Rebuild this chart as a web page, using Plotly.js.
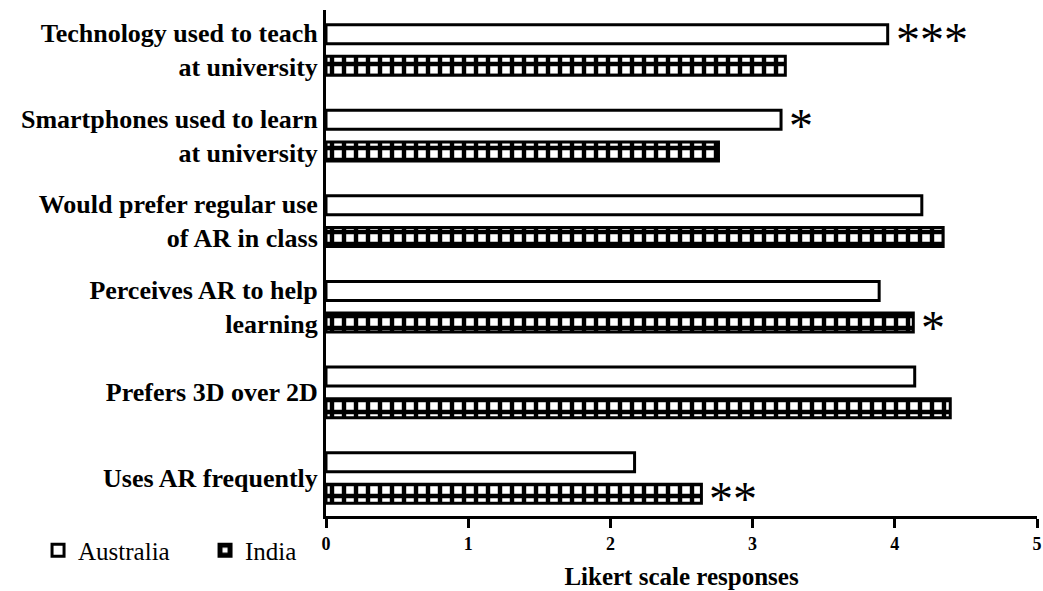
<!DOCTYPE html>
<html>
<head>
<meta charset="utf-8">
<script src="https://cdn.plot.ly/plotly-3.0.1.min.js"></script>
<style>html,body{margin:0;padding:0;background:#fff;}#chart{width:1043px;height:591px;}</style>
</head>
<body>
<div id="chart"></div>
<script>
const categories = [
  "Technology used to teach<br>at university",
  "Smartphones used to learn<br>at university",
  "Would prefer regular use<br>of AR in class",
  "Perceives AR to help<br>learning",
  "Prefers 3D over 2D",
  "Uses AR frequently"
];
const australia = [3.95, 3.20, 4.19, 3.89, 4.14, 2.17];
const india = [3.23, 2.76, 4.34, 4.13, 4.39, 2.64];
const australiaSig = ["***", "*", "", "", "", ""];
const indiaSig = ["", "", "", "*", "", "**"];
const xTicks = [0, 1, 2, 3, 4, 5];

const serif = "Liberation Serif";

const traces = [
  {
    type: "bar", orientation: "h", name: "Australia",
    y: categories, x: australia,
    marker: {color: "#ffffff", line: {color: "#000000", width: 3}},
    hoverinfo: "x+y"
  },
  {
    type: "bar", orientation: "h", name: "India",
    y: categories, x: india,
    marker: {color: "#ffffff", line: {color: "#000000", width: 3},
      pattern: {shape: "+", fgcolor: "#000000", bgcolor: "#ffffff", size: 12, solidity: 0.6, fillmode: "replace"}},
    hoverinfo: "x+y"
  }
];

const annotations = [];
categories.forEach((c, i) => {
  if (australiaSig[i]) annotations.push({x: australia[i], y: c, text: australiaSig[i], xanchor: "left", yanchor: "middle",
    xshift: 6, yshift: 10, showarrow: false, font: {family: serif, size: 48, color: "#000"}});
  if (indiaSig[i]) annotations.push({x: india[i], y: c, text: indiaSig[i], xanchor: "left", yanchor: "middle",
    xshift: 6, yshift: -21, showarrow: false, font: {family: serif, size: 48, color: "#000"}});
});

const layout = {
  width: 1043, height: 591,
  font: {family: serif, color: "#000"},
  margin: {l: 326, r: 6, t: 10, b: 75},
  paper_bgcolor: "#ffffff", plot_bgcolor: "#ffffff",
  barmode: "group", bargap: 0.26, bargroupgap: 0.4,
  showlegend: true,
  legend: {orientation: "h", x: -0.405, xanchor: "left", y: -0.068, yanchor: "middle",
    bgcolor: "rgba(0,0,0,0)",
    font: {family: serif, size: 25, color: "#000"}, traceorder: "normal",
    entrywidth: 122, entrywidthmode: "pixels"},
  xaxis: {
    range: [0, 5], tickvals: xTicks, ticktext: xTicks.map(String),
    showgrid: false, zeroline: false, showline: true, linecolor: "#000", linewidth: 3,
    ticks: "outside", ticklen: 9, tickwidth: 3, tickcolor: "#000",
    tickfont: {family: serif, size: 18, color: "#000", weight: "bold"},
    title: {text: "Likert scale responses", font: {family: serif, size: 25, color: "#000", weight: "bold"}, standoff: 15}
  },
  yaxis: {
    type: "category", range: [5.444, -0.467], autorange: false,
    showgrid: false, zeroline: false, showline: true, linecolor: "#000", linewidth: 3,
    ticks: "", ticklen: 0,
    tickfont: {family: serif, size: 26, color: "#000", weight: "bold"}
  },
  annotations: annotations
};

Plotly.newPlot("chart", traces, layout, {displayModeBar: false, staticPlot: true});
</script>
</body>
</html>
